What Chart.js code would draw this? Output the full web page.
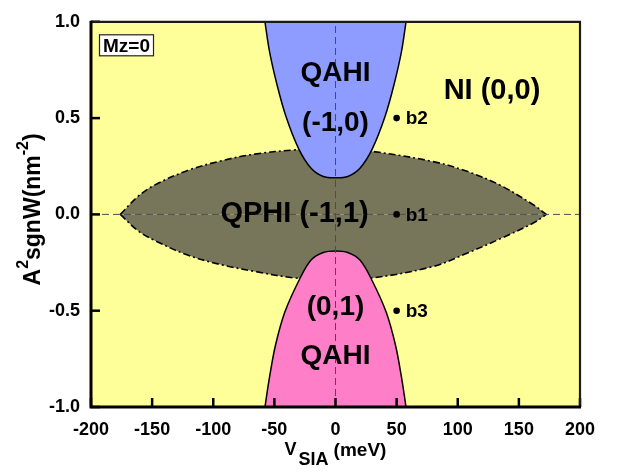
<!DOCTYPE html>
<html><head><meta charset="utf-8">
<style>html,body{margin:0;padding:0;background:#fff}canvas{display:block}</style>
<script src="https://cdn.jsdelivr.net/npm/chart.js@4.4.1/dist/chart.umd.min.js"></script>
</head><body>
<canvas id="c" width="617" height="473"></canvas>
<script>
// ---- data ----
const xTicks = [-200, -150, -100, -50, 0, 50, 100, 150, 200];
const yTicks = [-1.0, -0.5, 0.0, 0.5, 1.0];

// QAHI (-1,0) boundary (blue, region above the curve)
const blueX = [-57.7, -54, -48, -40.5, -30, -20, -10, 0, 10, 20, 30, 40.5, 48, 54, 57.7];
const blueY = [1.0, 0.846, 0.677, 0.508, 0.339, 0.24, 0.197, 0.19, 0.197, 0.24, 0.339, 0.508, 0.677, 0.846, 1.0];

// QAHI (0,1) boundary (pink, region below the curve)
const pinkX = [-57.7, -54, -49, -41.5, -29.5, -20, -10, 0, 10, 20, 29.5, 41.5, 49, 54, 57.7];
const pinkY = [-1.0, -0.846, -0.677, -0.508, -0.338, -0.237, -0.198, -0.19, -0.198, -0.237, -0.338, -0.508, -0.677, -0.846, -1.0];

// QPHI (-1,1) lens boundary
const lensX      = [-176, -161.6, -148, -121, -93, -66, -33, 0, 30, 80, 107, 134.6, 161.8, 172.5];
const lensUpperY = [0, 0.093, 0.152, 0.228, 0.279, 0.313, 0.335, 0.34, 0.327, 0.274, 0.225, 0.152, 0.05, 0];
const lensLowerY = [0, -0.085, -0.135, -0.211, -0.262, -0.296, -0.33, -0.335, -0.33, -0.27, -0.203, -0.127, -0.045, 0];

// reference lines
const zeroHX = [-200, 200], zeroHY = [0, 0];
const zeroVX = [0, 0],      zeroVY = [-1, 1];

// marked points
const bNames = ['b2', 'b1', 'b3'];
const bX = [50, 50, 50];
const bY = [0.5, 0, -0.5];

// region labels (data coordinates)
const regionNames = ['QAHI', '(-1,0)', 'NI (0,0)', 'QPHI (-1,1)', '(0,1)', 'QAHI'];
const regionX = [0, 0, 128, -33.5, 0, 0];
const regionY = [0.734, 0.474, 0.64, 0, -0.484, -0.736];

const FONT = "'Liberation Sans', Arial, Helvetica, sans-serif";
const pts = (xs, ys) => xs.map((x, i) => ({x: x, y: ys[i]}));

function drawSegments(ctx, segs, cx, gaps) {
  let widths = segs.map(s => { ctx.font = `bold ${s.size}px ${FONT}`; return ctx.measureText(s.t).width; });
  let total = widths.reduce((a, b) => a + b, 0) + gaps.reduce((a, b) => a + b, 0);
  let x = cx - total / 2;
  segs.forEach((s, i) => {
    x += gaps[i];
    ctx.font = `bold ${s.size}px ${FONT}`;
    ctx.fillText(s.t, x, s.dy);
    x += widths[i];
  });
}

const decor = {
  id: 'decor',
  beforeDraw(chart) {
    const {ctx, chartArea: a} = chart;
    ctx.save();
    ctx.fillStyle = '#ffffff';
    ctx.fillRect(0, 0, chart.width, chart.height);
    ctx.fillStyle = '#ffff99';
    ctx.fillRect(a.left, a.top, a.right - a.left, a.bottom - a.top);
    ctx.restore();
  },
  afterDatasetsDraw(chart) {
    const {ctx, chartArea: a, scales: {x, y}} = chart;
    ctx.save();
    ctx.fillStyle = '#000';
    ctx.textAlign = 'center';
    ctx.textBaseline = 'middle';
    regionNames.forEach((t, i) => {
      ctx.font = `bold ${i === 2 || i === 3 ? 29 : 28}px ${FONT}`;
      ctx.fillText(t, x.getPixelForValue(regionX[i]), y.getPixelForValue(regionY[i]));
    });
    ctx.font = `bold 19px ${FONT}`;
    ctx.textAlign = 'left';
    bNames.forEach((t, i) => {
      ctx.fillText(t, x.getPixelForValue(bX[i]) + 9, y.getPixelForValue(bY[i]) + 1);
    });
    // Mz=0 box
    const bx = a.left + 8.5, by = a.top + 13, bw = 54, bh = 21;
    ctx.fillStyle = '#fff';
    ctx.fillRect(bx, by, bw, bh);
    ctx.strokeStyle = '#222';
    ctx.lineWidth = 1.2;
    ctx.strokeRect(bx, by, bw, bh);
    ctx.fillStyle = '#000';
    ctx.textAlign = 'center';
    ctx.font = `bold 19px ${FONT}`;
    ctx.fillText('Mz=0', bx + bw / 2, by + bh / 2 + 1);
    // inward ticks
    ctx.strokeStyle = '#000';
    ctx.lineWidth = 2.5;
    xTicks.forEach(v => {
      const px = x.getPixelForValue(v);
      ctx.beginPath(); ctx.moveTo(px, a.bottom); ctx.lineTo(px, a.bottom - 9); ctx.stroke();
    });
    yTicks.forEach(v => {
      const py = y.getPixelForValue(v);
      ctx.beginPath(); ctx.moveTo(a.left, py); ctx.lineTo(a.left + 9, py); ctx.stroke();
    });
    // frame
    ctx.strokeStyle = '#1a1a1a';
    ctx.lineWidth = 2.2;
    ctx.beginPath(); ctx.moveTo(a.left, a.top); ctx.lineTo(a.right, a.top); ctx.lineTo(a.right, a.bottom); ctx.stroke();
    ctx.strokeStyle = '#000';
    ctx.lineWidth = 3;
    ctx.beginPath(); ctx.moveTo(a.left, a.top - 1); ctx.lineTo(a.left, a.bottom); ctx.lineTo(a.right + 1, a.bottom); ctx.stroke();
    ctx.restore();
  },
  afterDraw(chart) {
    const {ctx, chartArea: a} = chart;
    ctx.save();
    ctx.fillStyle = '#000';
    ctx.textAlign = 'left';
    ctx.textBaseline = 'alphabetic';
    drawSegments(ctx, [
      {t: 'V', size: 18, dy: 455},
      {t: 'SIA', size: 18, dy: 465},
      {t: '(meV)', size: 19, dy: 456}
    ], (a.left + a.right) / 2, [0, 2, 5]);
    ctx.save();
    ctx.translate(40, (a.top + a.bottom) / 2 - 5);
    ctx.rotate(-Math.PI / 2);
    drawSegments(ctx, [
      {t: 'A', size: 23, dy: 0},
      {t: '2', size: 16, dy: -12},
      {t: 'sgnW(nm', size: 23, dy: 0},
      {t: '-2', size: 16, dy: -12},
      {t: ')', size: 23, dy: 0}
    ], 0, [0, 0, 0, 0, 0]);
    ctx.restore();
    ctx.restore();
  }
};

const curve = {pointRadius: 0, tension: 0.35};

new Chart(document.getElementById('c'), {
  type: 'line',
  data: {
    datasets: [
      Object.assign({label: 'QPHI upper', data: pts(lensX, lensUpperY), borderColor: '#000', borderWidth: 1.6,
       borderDash: [7, 3, 2, 3], backgroundColor: '#78765a', fill: {value: 0}, order: 6}, curve),
      Object.assign({label: 'QPHI lower', data: pts(lensX, lensLowerY), borderColor: '#000', borderWidth: 1.6,
       borderDash: [7, 3, 2, 3], backgroundColor: '#78765a', fill: {value: 0}, order: 6}, curve),
      Object.assign({label: 'QAHI (-1,0)', data: pts(blueX, blueY), borderColor: '#000', borderWidth: 1.5,
       backgroundColor: '#8f9cff', fill: 'end', order: 5}, curve),
      Object.assign({label: 'QAHI (0,1)', data: pts(pinkX, pinkY), borderColor: '#000', borderWidth: 1.5,
       backgroundColor: '#ff7ec8', fill: 'start', order: 5}, curve),
      {label: 'y=0', data: pts(zeroHX, zeroHY), borderColor: '#4b4b5a', borderWidth: 1,
       borderDash: [7, 4], pointRadius: 0, fill: false, order: 3},
      {label: 'x=0', data: pts(zeroVX, zeroVY), borderColor: '#4b4b5a', borderWidth: 1,
       borderDash: [7, 4], pointRadius: 0, fill: false, order: 3},
      {label: 'b points', data: pts(bX, bY), showLine: false, pointRadius: 3.3,
       pointBackgroundColor: '#000', pointBorderColor: '#000', pointBorderWidth: 0, order: 1}
    ]
  },
  options: {
    responsive: false,
    animation: false,
    devicePixelRatio: 1,
    layout: {padding: {left: 0, top: 13, right: 37, bottom: 0}},
    plugins: {legend: {display: false}, tooltip: {enabled: false}},
    scales: {
      x: {
        type: 'linear', min: -200, max: 200,
        afterBuildTicks: s => { s.ticks = xTicks.map(v => ({value: v})); },
        afterFit: s => { s.height = 66; },
        grid: {display: false, drawTicks: false},
        border: {display: false},
        ticks: {color: '#000', font: {family: FONT, size: 18, weight: 'bold'}, padding: 12,
                maxRotation: 0, autoSkip: false, callback: v => String(v)}
      },
      y: {
        type: 'linear', min: -1, max: 1,
        afterBuildTicks: s => { s.ticks = yTicks.map(v => ({value: v})); },
        afterFit: s => { s.width = 91; },
        grid: {display: false, drawTicks: false},
        border: {display: false},
        ticks: {color: '#000', font: {family: FONT, size: 18, weight: 'bold'}, padding: 11,
                autoSkip: false, callback: v => Number(v).toFixed(1)}
      }
    }
  },
  plugins: [decor]
});
</script>
</body></html>
